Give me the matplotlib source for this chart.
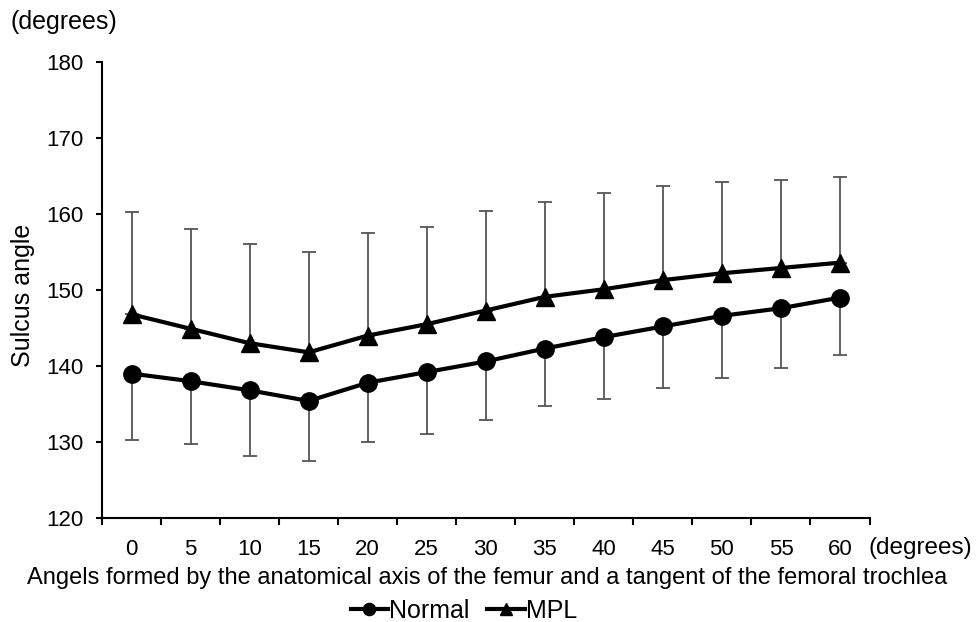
import matplotlib as mpl
mpl.use("Agg")
import matplotlib.pyplot as plt
import numpy as np

# knee flexion angle categories (degrees)
angles = ["0", "5", "10", "15", "20", "25", "30", "35", "40", "45", "50", "55", "60"]

# sulcus angle means and SD
normal_mean = [139.0, 138.0, 136.8, 135.4, 137.8, 139.2, 140.6, 142.3, 143.8, 145.2, 146.6, 147.6, 149.0]
normal_sd = [8.8, 8.3, 8.6, 7.9, 7.8, 8.1, 7.7, 7.5, 8.2, 8.1, 8.2, 7.9, 7.5]
mpl_mean = [146.8, 144.9, 143.0, 141.8, 144.0, 145.5, 147.3, 149.1, 150.1, 151.3, 152.2, 152.9, 153.6]
mpl_sd = [13.4, 13.1, 13.1, 13.2, 13.5, 12.8, 13.1, 12.5, 12.6, 12.4, 12.0, 11.6, 11.3]

plt.rcParams['font.family'] = ['Liberation Sans', 'DejaVu Sans']

fig = plt.figure(figsize=(9.76, 6.22), dpi=100)
ax = fig.add_axes([102 / 976, 1 - 518 / 622, (869.5 - 102) / 976, (518 - 62) / 622])

x = np.arange(len(angles))
zeros = np.zeros(len(angles))

# one-sided error bars: Normal downward, MPL upward
ax.errorbar(x, normal_mean, yerr=[normal_sd, zeros], fmt='none', ecolor='#555555',
            elinewidth=1.3, capsize=5, capthick=1.3, zorder=1)
ax.errorbar(x, mpl_mean, yerr=[zeros, mpl_sd], fmt='none', ecolor='#555555',
            elinewidth=1.3, capsize=5, capthick=1.3, zorder=1)

ax.plot(x, normal_mean, color='black', lw=3, marker='o', ms=12.5, label='Normal', zorder=3)
ax.plot(x, mpl_mean, color='black', lw=3, marker='^', ms=13, label='MPL', zorder=3)

ax.set_xlim(-0.5, len(angles) - 0.5)
ax.set_ylim(120, 180)
ax.set_yticks(np.arange(120, 181, 10))

# category axis: tick marks between categories, labels at centres
ax.set_xticks(np.arange(-0.5, len(angles), 1.0))
ax.set_xticklabels([])
ax.set_xticks(x, minor=True)
ax.set_xticklabels(angles, minor=True)
ax.tick_params(axis='x', which='major', direction='out', length=5, width=1.5)
ax.tick_params(axis='x', which='minor', length=0, pad=15, labelsize=16)
ax.tick_params(axis='y', direction='out', length=4.5, width=1.5, pad=9, labelsize=16)

for s in ['top', 'right']:
    ax.spines[s].set_visible(False)
for s in ['left', 'bottom']:
    ax.spines[s].set_linewidth(1.5)

fig.text(10 / 976, 1 - 22 / 622, "(degrees)", fontsize=18, va='center', ha='left')
fig.text(869 / 976, 1 - 548 / 622, "(degrees)", fontsize=17.5, va='center', ha='left')
fig.text(23 / 976, 1 - 295 / 622, "Sulcus angle", fontsize=18, rotation=90, va='center', ha='center')
fig.text(487 / 976, 1 - 578 / 622,
         "Angels formed by the anatomical axis of the femur and a tangent of the femoral trochlea",
         fontsize=17, va='center', ha='center')

fig.legend(loc='center', bbox_to_anchor=(464 / 976, 1 - 611 / 622), ncol=2, frameon=False,
           fontsize=18, handlelength=1.5, handletextpad=0.05, columnspacing=0.7, markerscale=0.7)

fig.savefig('out.png', dpi=100)
